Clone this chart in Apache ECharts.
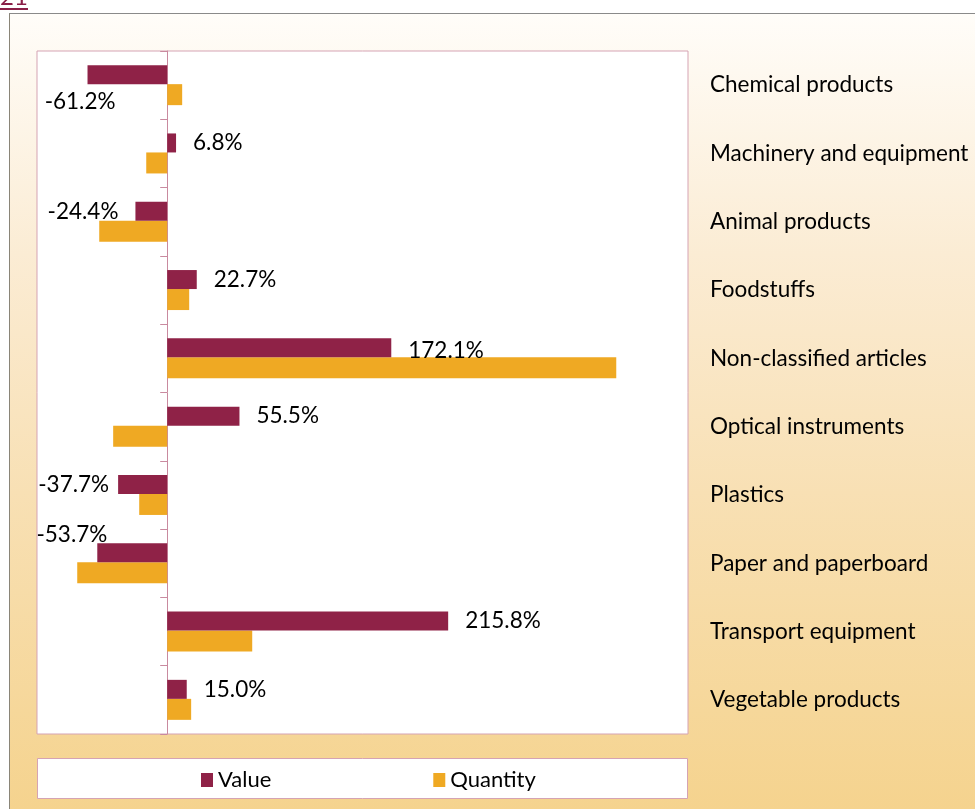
<!DOCTYPE html>
<html>
<head>
<meta charset="utf-8">
<script src="https://cdn.jsdelivr.net/npm/echarts@6/dist/echarts.min.js"></script>
<style>
  html, body { margin: 0; padding: 0; background: #fff; }
  #wrap { position: relative; width: 975px; height: 809px; overflow: hidden; }
  #bg {
    position: absolute; left: 9px; top: 13px; right: -2px; bottom: -2px;
    border-left: 1px solid #8a8578; border-top: 1px solid #8a8a8a;
    background: linear-gradient(to bottom, #fffdf9 0%, #fbecd4 30%, #f8e0b4 60%, #f5d38e 100%);
  }
  #chart { position: absolute; left: 0; top: 0; width: 975px; height: 809px; }
</style>
</head>
<body>
<div id="wrap">
  <div id="bg"></div>
  <div id="chart"></div>
</div>
<script>
// categories, top to bottom
const categories = [
  "Chemical products", "Machinery and equipment", "Animal products", "Foodstuffs",
  "Non-classified articles", "Optical instruments", "Plastics", "Paper and paperboard",
  "Transport equipment", "Vegetable products"
];
// % change
const valueData = [-61.2, 6.8, -24.4, 22.7, 172.1, 55.5, -37.7, -53.7, 215.8, 15.0];
const quantityData = [11.5, -16.1, -52.2, 16.9, 344.9, -41.5, -21.5, -69.1, 65.3, 18.4];
const seriesNames = ["Value", "Quantity"];

const FONT = "Lato";

// label placement tweaks per bar (like the excel output)
const labelTweaks = {
  0: { position: "left", distance: 5, offset: [33, 27] },
  2: { position: "left", distance: 17 },
  4: { position: "right", distance: 17, offset: [0, 3] },
  6: { position: "left", distance: 9 },
  7: { position: "left", distance: 5, offset: [15, -18] }
};

const valueItems = valueData.map((v, i) => {
  const lbl = labelTweaks[i] || { position: v < 0 ? "left" : "right", distance: 17 };
  return { value: v, label: lbl };
});

const chart = echarts.init(document.getElementById("chart"));
chart.setOption({
  backgroundColor: "transparent",
  animation: false,
  textStyle: { fontFamily: FONT },
  graphic: [
    {
      type: "text", left: 0, top: -15,
      style: { text: "21", fill: "#8a1f47", font: "24px " + FONT }
    },
    {
      type: "line", shape: { x1: 0, y1: 9, x2: 28, y2: 9 },
      style: { stroke: "#8a1f47", lineWidth: 2 }
    },
    {
      type: "rect", z: 1,
      shape: { x: 37.5, y: 758.5, width: 650, height: 40 },
      style: { fill: "#fff", stroke: "#d5a3b3", lineWidth: 1 }
    }
  ],
  legend: {
    data: seriesNames,
    left: 196, top: 764,
    itemWidth: 12, itemHeight: 14, itemGap: 162,
    icon: "rect",
    textStyle: { fontSize: 22, color: "#000", fontFamily: FONT, padding: [0, 0, 0, 0] },
    z: 5
  },
  grid: {
    left: 37, top: 51, width: 651, height: 683,
    show: true, backgroundColor: "#fff", borderColor: "#d5a3b3", borderWidth: 1
  },
  xAxis: {
    type: "value", min: -100, max: 400, show: false,
    splitLine: { show: false }
  },
  yAxis: [
    {
      type: "category", data: categories, inverse: true,
      axisLine: { onZero: true, lineStyle: { color: "#c98a9f", width: 1 } },
      axisTick: { show: true, length: 7, lineStyle: { color: "#c98a9f" } },
      axisLabel: { show: false }
    },
    {
      type: "category", data: categories, inverse: true, position: "right",
      axisLine: { show: false }, axisTick: { show: false },
      axisLabel: { margin: 22, fontSize: 22.5, color: "#000", fontFamily: FONT, align: "left" }
    }
  ],
  series: [
    {
      name: seriesNames[0], type: "bar", yAxisIndex: 0,
      data: valueItems,
      barWidth: 19, barGap: "0%",
      itemStyle: { color: "#8f2247" },
      label: {
        show: true, fontSize: 22.5, color: "#000", fontFamily: FONT,
        formatter: (p) => p.value.toFixed(1) + "%"
      },
      z: 3
    },
    {
      name: seriesNames[1], type: "bar", yAxisIndex: 0,
      data: quantityData,
      barWidth: 21, barGap: "0%",
      itemStyle: { color: "#efa923" },
      z: 2
    }
  ]
});
</script>
</body>
</html>
